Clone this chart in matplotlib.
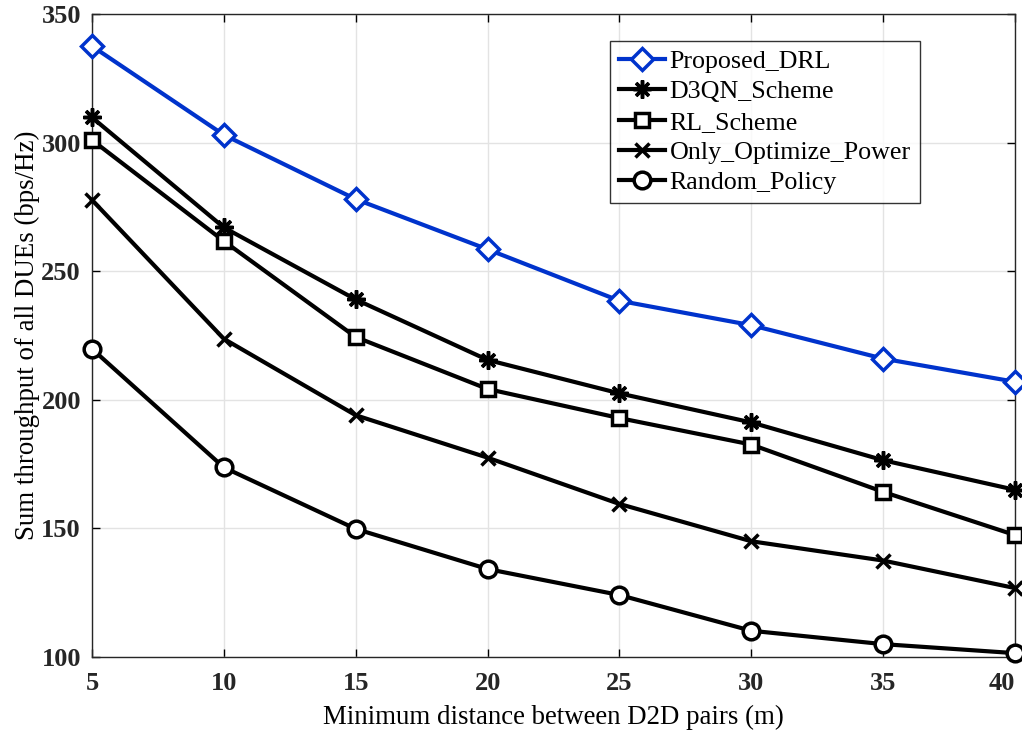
import matplotlib
matplotlib.use("Agg")
import matplotlib.pyplot as plt
import matplotlib.transforms as mtransforms

x = [5, 10, 15, 20, 25, 30, 35, 40]
proposed = [337.5, 303, 278, 258.5, 238.5, 229, 216, 207]
d3qn = [309.8, 267, 239, 215.5, 202.5, 191.2, 176.5, 165]
rl = [301, 261.7, 224.4, 204.2, 192.9, 182.6, 164.2, 147.4]
only_power = [277.7, 223.7, 194, 177.5, 159.5, 145, 137.5, 126.8]
random_policy = [219.8, 173.7, 149.8, 134.2, 124.1, 110.2, 105, 101.5]
labels = ["Proposed_DRL", "D3QN_Scheme", "RL_Scheme", "Only_Optimize_Power", "Random_Policy"]
xticks = [5, 10, 15, 20, 25, 30, 35, 40]
yticks = [100, 150, 200, 250, 300, 350]

plt.rcParams['font.family'] = ['Liberation Serif', 'DejaVu Serif']
plt.rcParams['mathtext.fontset'] = 'stix'

fig = plt.figure(figsize=(10.22, 7.38), dpi=100)
ax = fig.add_axes([92/1022, 1-657/738, (1015-92)/1022, (657-14)/738])

lw = 3.0
common = dict(lw=lw, mew=2.5, clip_on=False)
ax.plot(x, proposed, color='#0033cc', marker='D', ms=11, mfc='white', label=labels[0], zorder=5, **common)
ax.plot(x, d3qn, color='black', marker=(8, 2, 0), ms=13, label=labels[1], zorder=4, **common)
ax.plot(x, rl, color='black', marker='s', ms=10, mfc='white', label=labels[2], zorder=4, **common)
ax.plot(x, only_power, color='black', marker='x', ms=10, label=labels[3], zorder=4, **common)
ax.plot(x, random_policy, color='black', marker='o', ms=12, mfc='white', label=labels[4], zorder=4, **common)

ax.set_xlim(5, 40)
ax.set_ylim(100, 350)
ax.set_xticks(xticks)
ax.set_yticks(yticks)
ax.grid(True, color='#e3e3e3', lw=1.0)
ax.set_axisbelow(True)
ax.tick_params(direction='in', length=6, width=1, top=True, right=True, labelsize=19)
ax.tick_params(axis='x', pad=11)
ax.tick_params(axis='y', pad=8)
for lab in ax.get_xticklabels() + ax.get_yticklabels():
    lab.set_fontweight('bold')
    lab.set_color('#262626')
# shift last x tick label inward like the reference
lastlab = ax.get_xticklabels()[-1]
lastlab.set_transform(lastlab.get_transform() + mtransforms.ScaledTranslation(-13/100, 0, fig.dpi_scale_trans))
for s in ax.spines.values():
    s.set_linewidth(1.0)
    s.set_color('#262626')

ax.set_xlabel("Minimum distance between D2D pairs (m)", fontsize=19.4, labelpad=7)
ax.set_ylabel("Sum throughput of all DUEs (bps/Hz)", fontsize=19.4, labelpad=1)

leg = ax.legend(loc='upper right', bbox_to_anchor=(0.897, 0.958), fontsize=18.7, frameon=True,
                fancybox=False, edgecolor='black', handlelength=1.75, handletextpad=0.2,
                borderpad=0.35, labelspacing=0.27, borderaxespad=0.0)
leg.get_frame().set_linewidth(1.0)

fig.savefig("out.png", dpi=100)
